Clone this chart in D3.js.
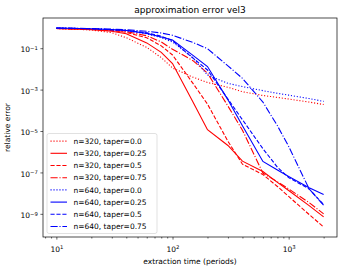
<!DOCTYPE html>
<html>
<head>
<meta charset="utf-8">
<script src="https://cdn.jsdelivr.net/npm/d3@7"></script>
<style>
    body { margin: 0; background: #fff; }
    svg { display: block; font-family: "DejaVu Sans", sans-serif; }
</style>
</head>
<body>
<div id="chart"></div>
<script>
// extraction time (periods)
var times = [10, 20, 30, 40, 60, 80, 100, 150, 200, 300, 400, 600, 800, 1000, 1500, 2000];

// relative error, one array per (n, taper)
var n320taper00 = [0.89, 0.76, 0.56, 0.32, 0.11, 0.035, 0.011, 4.0e-3, 2.2e-3, 1.3e-3, 7.9e-4, 5.2e-4, 4.2e-4, 3.5e-4, 2.5e-4, 1.9e-4];
var n320taper025 = [0.89, 0.79, 0.66, 0.50, 0.18, 0.063, 0.018, 2.5e-4, 1.15e-5, 2.0e-6, 3.5e-7, 1.1e-7, 3.3e-8, 1.35e-8, 2.5e-9, 7.1e-10];
var n320taper05 = [0.89, 0.81, 0.71, 0.58, 0.32, 0.13, 0.047, 2.0e-3, 2.0e-4, 3.2e-6, 2.5e-7, 7.9e-8, 2.1e-8, 6.9e-9, 9.3e-10, 2.3e-10];
var n320taper075 = [0.89, 0.83, 0.74, 0.63, 0.40, 0.20, 0.089, 0.025, 6.3e-3, 1.6e-4, 1.1e-5, 9.3e-8, 3.5e-8, 1.6e-8, 3.5e-9, 1.0e-9];
var n640taper00 = [0.95, 0.87, 0.78, 0.69, 0.50, 0.32, 0.20, 0.035, 5.0e-3, 2.0e-3, 1.4e-3, 8.9e-4, 6.6e-4, 5.4e-4, 3.7e-4, 2.7e-4];
var n640taper025 = [0.95, 0.87, 0.79, 0.71, 0.52, 0.35, 0.25, 0.045, 0.013, 3.2e-4, 1.8e-5, 3.4e-7, 1.3e-7, 6.3e-8, 1.8e-8, 8.5e-9];
var n640taper05 = [0.95, 0.87, 0.79, 0.72, 0.56, 0.38, 0.23, 0.033, 8.9e-3, 3.5e-4, 3.5e-5, 1.4e-6, 1.8e-7, 5.6e-8, 1.6e-8, 2.8e-9];
var n640taper075 = [0.95, 0.89, 0.83, 0.78, 0.66, 0.54, 0.42, 0.19, 0.095, 0.014, 3.5e-3, 2.5e-4, 1.8e-5, 1.8e-6, 1.6e-8, 2.6e-9];

var seriesLabels = ['n=320, taper=0.0', 'n=320, taper=0.25', 'n=320, taper=0.5', 'n=320, taper=0.75',
    'n=640, taper=0.0', 'n=640, taper=0.25', 'n=640, taper=0.5', 'n=640, taper=0.75'];
var seriesValues = [n320taper00, n320taper025, n320taper05, n320taper075,
    n640taper00, n640taper025, n640taper05, n640taper075];

var xTickExps = [1, 2, 3];
var yTickExps = [-1, -3, -5, -7, -9];

// matplotlib line styles, scaled to this figure size
var dashes = ['1.12,1.85', null, '4.14,1.79', '7.17,1.79,1.12,1.79'];
var colors = ['#ff0000', '#0000ff'];

var width = 344;
var height = 270;
var padding = { top: 18, right: 7, bottom: 33, left: 43 };

var svg = d3.select('#chart')
    .append('svg')
    .attr('width', width)
    .attr('height', height);

var series = seriesLabels.map(function (label, i) {
    return {
        label: label,
        color: colors[Math.floor(i / 4)],
        dash: dashes[i % 4],
        points: times.map(function (t, j) { return [t, seriesValues[i][j]]; })
    };
});

// log axes with 5% margins, like matplotlib
var allValues = [].concat.apply([], seriesValues);
var xl = d3.extent(times).map(Math.log10);
var yl = d3.extent(allValues).map(Math.log10);
var xPad = (xl[1] - xl[0]) * 0.05;
var yPad = (yl[1] - yl[0]) * 0.05;

var xScale = d3.scaleLog()
    .domain([Math.pow(10, xl[0] - xPad), Math.pow(10, xl[1] + xPad)])
    .range([padding.left, width - padding.right]);
var yScale = d3.scaleLog()
    .domain([Math.pow(10, yl[0] - yPad), Math.pow(10, yl[1] + yPad)])
    .range([height - padding.bottom, padding.top]);

// minor ticks on x
var minorTicks = [];
[1, 10, 100, 1000].forEach(function (b) {
    for (var k = 2; k < 10; k++) {
        var v = b * k;
        if (v >= xScale.domain()[0] && v <= xScale.domain()[1]) minorTicks.push(v);
    }
});

svg.append('g')
    .attr('transform', 'translate(0,' + (height - padding.bottom) + ')')
    .call(d3.axisBottom(xScale).tickValues(minorTicks).tickSize(1.5).tickFormat(''))
    .call(function (g) { g.select('.domain').remove(); })
    .selectAll('line').attr('stroke', '#000').attr('stroke-width', 0.6);

function powerLabel(textSel, exps) {
    textSel.each(function (d, i) {
        var t = d3.select(this);
        t.text(null);
        t.append('tspan').text('10');
        var e = exps[i];
        t.append('tspan')
            .attr('dy', '-0.45em')
            .attr('font-size', '5.3px')
            .text(e < 0 ? '\u2212' + (-e) : String(e));
    });
}

var xAxis = svg.append('g')
    .attr('transform', 'translate(0,' + (height - padding.bottom) + ')')
    .call(d3.axisBottom(xScale)
        .tickValues(xTickExps.map(function (e) { return Math.pow(10, e); }))
        .tickSize(2.6).tickPadding(2.6).tickFormat(''));
xAxis.select('.domain').remove();
xAxis.selectAll('line').attr('stroke', '#000').attr('stroke-width', 0.6);
xAxis.selectAll('text')
    .attr('font-size', '7.5px').attr('fill', '#000')
    .attr('font-family', '"DejaVu Sans", sans-serif')
    .attr('dy', '1.25em')
    .call(powerLabel, xTickExps);

var yAxis = svg.append('g')
    .attr('transform', 'translate(' + padding.left + ',0)')
    .call(d3.axisLeft(yScale)
        .tickValues(yTickExps.map(function (e) { return Math.pow(10, e); }))
        .tickSize(2.6).tickPadding(2.6).tickFormat(''));
yAxis.select('.domain').remove();
yAxis.selectAll('line').attr('stroke', '#000').attr('stroke-width', 0.6);
yAxis.selectAll('text')
    .attr('font-size', '7.5px').attr('fill', '#000')
    .attr('font-family', '"DejaVu Sans", sans-serif')
    .attr('dy', '0.5em')
    .call(powerLabel, yTickExps);

// lines
var linePath = d3.line()
    .x(function (d) { return xScale(d[0]); })
    .y(function (d) { return yScale(d[1]); });

svg.append('g')
    .selectAll('path')
    .data(series)
    .enter()
    .append('path')
    .attr('d', function (d) { return linePath(d.points); })
    .attr('fill', 'none')
    .attr('stroke', function (d) { return d.color; })
    .attr('stroke-width', 1.1)
    .attr('stroke-dasharray', function (d) { return d.dash; });

// frame
svg.append('rect')
    .attr('x', padding.left)
    .attr('y', padding.top)
    .attr('width', width - padding.left - padding.right)
    .attr('height', height - padding.top - padding.bottom)
    .attr('fill', 'none')
    .attr('stroke', '#000')
    .attr('stroke-width', 0.7);

// legend
var legend = svg.append('g').attr('transform', 'translate(47,133.5)');
legend.append('rect')
    .attr('width', 110)
    .attr('height', 100)
    .attr('rx', 2)
    .attr('fill', '#fff')
    .attr('fill-opacity', 0.8)
    .attr('stroke', '#cccccc')
    .attr('stroke-width', 0.6);
var item = legend.selectAll('g.item')
    .data(series)
    .enter()
    .append('g')
    .attr('class', 'item')
    .attr('transform', function (d, i) { return 'translate(0,' + (7.6 + i * 12.2) + ')'; });
item.append('line')
    .attr('x1', 3.5).attr('x2', 20)
    .attr('stroke', function (d) { return d.color; })
    .attr('stroke-width', 1.1)
    .attr('stroke-dasharray', function (d) { return d.dash; });
item.append('text')
    .attr('x', 26.5)
    .attr('dy', '0.36em')
    .attr('font-size', '7.5px')
    .text(function (d) { return d.label; });

// titles
svg.append('text')
    .attr('x', (padding.left + width - padding.right) / 2)
    .attr('y', 13)
    .attr('text-anchor', 'middle')
    .attr('font-size', '9px')
    .text('approximation error vel3');
svg.append('text')
    .attr('x', (padding.left + width - padding.right) / 2)
    .attr('y', 264)
    .attr('text-anchor', 'middle')
    .attr('font-size', '7.5px')
    .text('extraction time (periods)');
svg.append('text')
    .attr('transform', 'translate(10,' + ((padding.top + height - padding.bottom) / 2) + ') rotate(-90)')
    .attr('text-anchor', 'middle')
    .attr('font-size', '7.5px')
    .text('relative error');
</script>
</body>
</html>
